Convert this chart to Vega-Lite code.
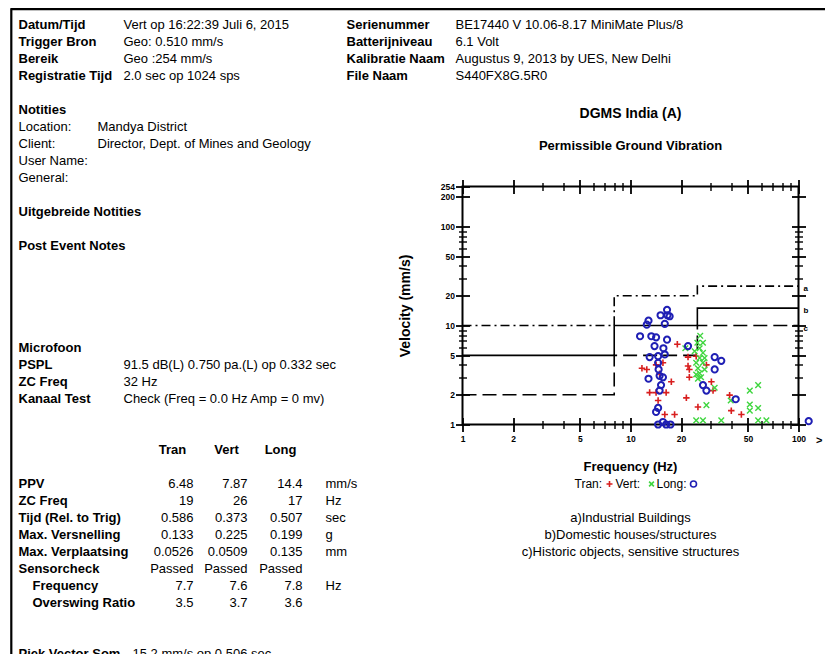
{
  "$schema": "https://vega.github.io/schema/vega-lite/v6.json",
  "background": "white",
  "padding": {"left": 9.5, "top": 7.5, "right": 0, "bottom": 0},
  "config": {
    "font": "Liberation Sans",
    "view": {"stroke": null},
    "text": {"fontSize": 13, "color": "black"},
    "axis": {"labelColor": "black", "tickColor": "black", "titleColor": "black", "labelFont": "Liberation Sans", "titleFont": "Liberation Sans"}
  },
  "datasets": {
    "report": [
      {"line": 0, "col": "lab", "kind": "label", "text": "Datum/Tijd"},
      {"line": 0, "col": "val", "text": "Vert op 16:22:39 Juli 6, 2015"},
      {"line": 0, "col": "lab2", "text": "Serienummer"},
      {"line": 0, "col": "val2", "text": "BE17440 V 10.06-8.17 MiniMate Plus/8"},
      {"line": 1, "col": "lab", "kind": "label", "text": "Trigger Bron"},
      {"line": 1, "col": "val", "text": "Geo: 0.510 mm/s"},
      {"line": 1, "col": "lab2", "text": "Batterijniveau"},
      {"line": 1, "col": "val2", "text": "6.1 Volt"},
      {"line": 2, "col": "lab", "kind": "label", "text": "Bereik"},
      {"line": 2, "col": "val", "text": "Geo :254 mm/s"},
      {"line": 2, "col": "lab2", "text": "Kalibratie Naam"},
      {"line": 2, "col": "val2", "text": "Augustus 9, 2013 by UES, New Delhi"},
      {"line": 3, "col": "lab", "kind": "label", "text": "Registratie Tijd"},
      {"line": 3, "col": "val", "text": "2.0 sec op 1024 sps"},
      {"line": 3, "col": "lab2", "text": "File Naam"},
      {"line": 3, "col": "val2", "text": "S440FX8G.5R0"},
      {"line": 5, "col": "lab", "kind": "heading", "text": "Notities"},
      {"line": 6, "col": "lab", "kind": "note", "text": "Location:"},
      {"line": 6, "col": "note", "text": "Mandya District"},
      {"line": 7, "col": "lab", "kind": "note", "text": "Client:"},
      {"line": 7, "col": "note", "text": "Director, Dept. of Mines and Geology"},
      {"line": 8, "col": "lab", "kind": "note", "text": "User Name:"},
      {"line": 9, "col": "lab", "kind": "note", "text": "General:"},
      {"line": 11, "col": "lab", "kind": "heading", "text": "Uitgebreide Notities"},
      {"line": 13, "col": "lab", "kind": "heading", "text": "Post Event Notes"},
      {"line": 19, "col": "lab", "kind": "heading", "text": "Microfoon"},
      {"line": 20, "col": "lab", "kind": "label", "text": "PSPL"},
      {"line": 20, "col": "val", "text": "91.5 dB(L)  0.750 pa.(L) op 0.332 sec"},
      {"line": 21, "col": "lab", "kind": "label", "text": "ZC Freq"},
      {"line": 21, "col": "val", "text": "32 Hz"},
      {"line": 22, "col": "lab", "kind": "label", "text": "Kanaal Test"},
      {"line": 22, "col": "val", "text": "Check (Freq = 0.0 Hz Amp = 0 mv)"},
      {"line": 25, "col": "hTran", "text": "Tran"},
      {"line": 25, "col": "hVert", "text": "Vert"},
      {"line": 25, "col": "hLong", "text": "Long"},
      {"line": 27, "col": "lab", "kind": "label", "text": "PPV"},
      {"line": 27, "col": "tran", "text": "6.48"},
      {"line": 27, "col": "vert", "text": "7.87"},
      {"line": 27, "col": "long", "text": "14.4"},
      {"line": 27, "col": "unit", "text": "mm/s"},
      {"line": 28, "col": "lab", "kind": "label", "text": "ZC Freq"},
      {"line": 28, "col": "tran", "text": "19"},
      {"line": 28, "col": "vert", "text": "26"},
      {"line": 28, "col": "long", "text": "17"},
      {"line": 28, "col": "unit", "text": "Hz"},
      {"line": 29, "col": "lab", "kind": "label", "text": "Tijd (Rel. to Trig)"},
      {"line": 29, "col": "tran", "text": "0.586"},
      {"line": 29, "col": "vert", "text": "0.373"},
      {"line": 29, "col": "long", "text": "0.507"},
      {"line": 29, "col": "unit", "text": "sec"},
      {"line": 30, "col": "lab", "kind": "label", "text": "Max. Versnelling"},
      {"line": 30, "col": "tran", "text": "0.133"},
      {"line": 30, "col": "vert", "text": "0.225"},
      {"line": 30, "col": "long", "text": "0.199"},
      {"line": 30, "col": "unit", "text": "g"},
      {"line": 31, "col": "lab", "kind": "label", "text": "Max. Verplaatsing"},
      {"line": 31, "col": "tran", "text": "0.0526"},
      {"line": 31, "col": "vert", "text": "0.0509"},
      {"line": 31, "col": "long", "text": "0.135"},
      {"line": 31, "col": "unit", "text": "mm"},
      {"line": 32, "col": "lab", "kind": "label", "text": "Sensorcheck"},
      {"line": 32, "col": "tran", "text": "Passed"},
      {"line": 32, "col": "vert", "text": "Passed"},
      {"line": 32, "col": "long", "text": "Passed"},
      {"line": 33, "col": "sub", "text": "Frequency"},
      {"line": 33, "col": "tran", "text": "7.7"},
      {"line": 33, "col": "vert", "text": "7.6"},
      {"line": 33, "col": "long", "text": "7.8"},
      {"line": 33, "col": "unit", "text": "Hz"},
      {"line": 34, "col": "sub", "text": "Overswing Ratio"},
      {"line": 34, "col": "tran", "text": "3.5"},
      {"line": 34, "col": "vert", "text": "3.7"},
      {"line": 34, "col": "long", "text": "3.6"},
      {"line": 37, "col": "lab", "kind": "label", "text": "Piek Vector Som"},
      {"line": 37, "col": "piek", "text": "15.2 mm/s op 0.506 sec"}
    ],
    "caption": [
      {"line": 6, "kind": "title", "text": "DGMS India (A)"},
      {"line": 8, "kind": "subtitle", "text": "Permissible Ground Vibration"},
      {"line": 2, "kind": "axisTitle", "text": "Frequency (Hz)"},
      {"line": 3, "kind": "legend", "series": "Tran", "text": "Tran:"},
      {"line": 3, "kind": "legend", "series": "Vert", "text": "Vert:"},
      {"line": 3, "kind": "legend", "series": "Long", "text": "Long:"},
      {"line": 5, "kind": "caption", "text": "a)Industrial Buildings"},
      {"line": 6, "kind": "caption", "text": "b)Domestic houses/structures"},
      {"line": 7, "kind": "caption", "text": "c)Historic objects, sensitive structures"}
    ],
    "limits": [
      {"cls": "a", "freq": 1, "vel": 10}, {"cls": "a", "freq": 8, "vel": 20}, {"cls": "a", "freq": 25, "vel": 25}, {"cls": "a", "freq": 100, "vel": 25},
      {"cls": "b", "freq": 1, "vel": 5}, {"cls": "b", "freq": 8, "vel": 10}, {"cls": "b", "freq": 25, "vel": 15}, {"cls": "b", "freq": 100, "vel": 15},
      {"cls": "c", "freq": 1, "vel": 2}, {"cls": "c", "freq": 8, "vel": 5}, {"cls": "c", "freq": 25, "vel": 10}, {"cls": "c", "freq": 100, "vel": 10}
    ],
    "points": [
      {"series": "Tran", "freq": 11.7, "vel": 3.7}, {"series": "Tran", "freq": 12.5, "vel": 3.6}, {"series": "Tran", "freq": 14.2, "vel": 4.0},
      {"series": "Tran", "freq": 15.6, "vel": 4.2}, {"series": "Tran", "freq": 19, "vel": 6.48}, {"series": "Tran", "freq": 22.0, "vel": 4.8},
      {"series": "Tran", "freq": 24.6, "vel": 4.9}, {"series": "Tran", "freq": 22.0, "vel": 3.9}, {"series": "Tran", "freq": 22.4, "vel": 3.6},
      {"series": "Tran", "freq": 22.4, "vel": 3.0}, {"series": "Tran", "freq": 17.5, "vel": 2.7}, {"series": "Tran", "freq": 13.0, "vel": 2.1},
      {"series": "Tran", "freq": 14.2, "vel": 2.1}, {"series": "Tran", "freq": 16.3, "vel": 2.1}, {"series": "Tran", "freq": 14.6, "vel": 1.75},
      {"series": "Tran", "freq": 21.5, "vel": 1.86}, {"series": "Tran", "freq": 25.2, "vel": 1.5}, {"series": "Tran", "freq": 16.0, "vel": 1.26},
      {"series": "Tran", "freq": 18.3, "vel": 1.26}, {"series": "Tran", "freq": 28.3, "vel": 4.0}, {"series": "Tran", "freq": 30.3, "vel": 2.7},
      {"series": "Tran", "freq": 31.0, "vel": 2.2}, {"series": "Tran", "freq": 38.9, "vel": 1.98}, {"series": "Tran", "freq": 39.8, "vel": 1.38},
      {"series": "Tran", "freq": 45.7, "vel": 1.26}, {"series": "Tran", "freq": 14.9, "vel": 3.25},
      {"series": "Vert", "freq": 26, "vel": 7.87}, {"series": "Vert", "freq": 25.0, "vel": 6.7}, {"series": "Vert", "freq": 27.0, "vel": 6.7},
      {"series": "Vert", "freq": 25.8, "vel": 5.9}, {"series": "Vert", "freq": 21.2, "vel": 5.9}, {"series": "Vert", "freq": 24.1, "vel": 5.5},
      {"series": "Vert", "freq": 27.0, "vel": 5.3}, {"series": "Vert", "freq": 25.8, "vel": 4.7}, {"series": "Vert", "freq": 24.6, "vel": 4.2},
      {"series": "Vert", "freq": 27.0, "vel": 4.2}, {"series": "Vert", "freq": 25.2, "vel": 3.7}, {"series": "Vert", "freq": 27.6, "vel": 3.6},
      {"series": "Vert", "freq": 24.6, "vel": 3.2}, {"series": "Vert", "freq": 26.3, "vel": 3.0}, {"series": "Vert", "freq": 25.2, "vel": 2.9},
      {"series": "Vert", "freq": 31.7, "vel": 2.35}, {"series": "Vert", "freq": 28.3, "vel": 1.57}, {"series": "Vert", "freq": 39.5, "vel": 1.75},
      {"series": "Vert", "freq": 51.3, "vel": 2.2}, {"series": "Vert", "freq": 57.5, "vel": 2.5}, {"series": "Vert", "freq": 51.3, "vel": 1.59},
      {"series": "Vert", "freq": 51.3, "vel": 1.38}, {"series": "Vert", "freq": 57.5, "vel": 1.47}, {"series": "Vert", "freq": 24.6, "vel": 1.1},
      {"series": "Vert", "freq": 27.0, "vel": 1.1}, {"series": "Vert", "freq": 34.7, "vel": 1.1}, {"series": "Vert", "freq": 57.5, "vel": 1.1},
      {"series": "Vert", "freq": 64.4, "vel": 1.1}, {"series": "Vert", "freq": 25.8, "vel": 3.3}, {"series": "Vert", "freq": 27.6, "vel": 4.7},
      {"series": "Long", "freq": 12.8, "vel": 11.2}, {"series": "Long", "freq": 12.5, "vel": 10.2}, {"series": "Long", "freq": 15.1, "vel": 12.7},
      {"series": "Long", "freq": 16.6, "vel": 12.7}, {"series": "Long", "freq": 16.5, "vel": 14.4}, {"series": "Long", "freq": 17.1, "vel": 12.4},
      {"series": "Long", "freq": 16.0, "vel": 10.4}, {"series": "Long", "freq": 11.4, "vel": 7.8}, {"series": "Long", "freq": 13.3, "vel": 7.8},
      {"series": "Long", "freq": 14.2, "vel": 7.6}, {"series": "Long", "freq": 16.5, "vel": 7.2}, {"series": "Long", "freq": 13.9, "vel": 6.2},
      {"series": "Long", "freq": 15.7, "vel": 5.9}, {"series": "Long", "freq": 22.0, "vel": 6.2}, {"series": "Long", "freq": 13.0, "vel": 4.8},
      {"series": "Long", "freq": 14.6, "vel": 4.9}, {"series": "Long", "freq": 16.0, "vel": 5.1}, {"series": "Long", "freq": 14.6, "vel": 4.2},
      {"series": "Long", "freq": 14.7, "vel": 3.6}, {"series": "Long", "freq": 14.9, "vel": 3.1}, {"series": "Long", "freq": 12.8, "vel": 2.9},
      {"series": "Long", "freq": 15.6, "vel": 3.0}, {"series": "Long", "freq": 15.2, "vel": 2.5}, {"series": "Long", "freq": 14.9, "vel": 2.2},
      {"series": "Long", "freq": 27.0, "vel": 2.5}, {"series": "Long", "freq": 28.3, "vel": 2.2}, {"series": "Long", "freq": 31.7, "vel": 4.8},
      {"series": "Long", "freq": 34.7, "vel": 4.4}, {"series": "Long", "freq": 31.7, "vel": 3.6}, {"series": "Long", "freq": 42.3, "vel": 1.8},
      {"series": "Long", "freq": 14.6, "vel": 1.47}, {"series": "Long", "freq": 14.2, "vel": 1.34}, {"series": "Long", "freq": 14.6, "vel": 1.0},
      {"series": "Long", "freq": 15.6, "vel": 1.06}, {"series": "Long", "freq": 16.3, "vel": 1.0}, {"series": "Long", "freq": 17.3, "vel": 1.0},
      {"series": "Long", "freq": 115, "vel": 1.08}
    ]
  },
  "bounds": "flush",
  "spacing": 0,
  "hconcat": [
    {
      "width": 1, "height": 660,
      "data": {"values": []},
      "mark": "rule", "encoding": {},
      "view": {"stroke": "black", "strokeWidth": 1.2}
    },
    {
      "bounds": "flush",
      "spacing": 0,
      "vconcat": [
        {
          "width": 815, "height": 1,
          "data": {"values": []},
          "mark": "rule", "encoding": {},
          "view": {"stroke": "black", "strokeWidth": 1.4}
        },
        {
          "bounds": "flush",
          "spacing": 0,
          "hconcat": [
            {
              "width": 7, "height": 644.5,
              "data": {"name": "report"},
              "transform": [{"filter": "datum.col === 'lab'"}],
              "encoding": {
                "x": {"field": "col", "type": "nominal", "axis": null, "scale": {"type": "point", "padding": 0, "align": 1}},
                "y": {"field": "line", "type": "ordinal", "axis": null, "scale": {"type": "point", "domain": [0,1,2,3,4,5,6,7,8,9,10,11,12,13,14,15,16,17,18,19,20,21,22,23,24,25,26,27,28,29,30,31,32,33,34,35,36,37], "padding": 0.456, "align": 1}},
                "text": {"field": "text"}
              },
              "layer": [
                {"transform": [{"filter": "datum.kind !== 'note'"}], "mark": {"type": "text", "align": "left", "fontWeight": "bold"}},
                {"transform": [{"filter": "datum.kind === 'note'"}], "mark": {"type": "text", "align": "left"}}
              ]
            },
            {
              "width": 14, "height": 644.5,
              "data": {"name": "report"},
              "transform": [{"filter": "datum.col === 'sub'"}],
              "mark": {"type": "text", "align": "left", "fontWeight": "bold"},
              "encoding": {
                "x": {"field": "col", "type": "nominal", "axis": null, "scale": {"type": "point", "padding": 0, "align": 1}},
                "y": {"field": "line", "type": "ordinal", "axis": null, "scale": {"type": "point", "domain": [0,1,2,3,4,5,6,7,8,9,10,11,12,13,14,15,16,17,18,19,20,21,22,23,24,25,26,27,28,29,30,31,32,33,34,35,36,37], "padding": 0.456, "align": 1}},
                "text": {"field": "text"}
              }
            },
            {
              "width": 65, "height": 644.5,
              "data": {"name": "report"},
              "transform": [{"filter": "datum.col === 'note'"}],
              "mark": {"type": "text", "align": "left"},
              "encoding": {
                "x": {"field": "col", "type": "nominal", "axis": null, "scale": {"type": "point", "padding": 0, "align": 1}},
                "y": {"field": "line", "type": "ordinal", "axis": null, "scale": {"type": "point", "domain": [0,1,2,3,4,5,6,7,8,9,10,11,12,13,14,15,16,17,18,19,20,21,22,23,24,25,26,27,28,29,30,31,32,33,34,35,36,37], "padding": 0.456, "align": 1}},
                "text": {"field": "text"}
              }
            },
            {
              "width": 26, "height": 644.5,
              "data": {"name": "report"},
              "transform": [{"filter": "datum.col === 'val'"}],
              "mark": {"type": "text", "align": "left"},
              "encoding": {
                "x": {"field": "col", "type": "nominal", "axis": null, "scale": {"type": "point", "padding": 0, "align": 1}},
                "y": {"field": "line", "type": "ordinal", "axis": null, "scale": {"type": "point", "domain": [0,1,2,3,4,5,6,7,8,9,10,11,12,13,14,15,16,17,18,19,20,21,22,23,24,25,26,27,28,29,30,31,32,33,34,35,36,37], "padding": 0.456, "align": 1}},
                "text": {"field": "text"}
              }
            },
            {
              "width": 9, "height": 644.5,
              "data": {"name": "report"},
              "transform": [{"filter": "datum.col === 'piek'"}],
              "mark": {"type": "text", "align": "left"},
              "encoding": {
                "x": {"field": "col", "type": "nominal", "axis": null, "scale": {"type": "point", "padding": 0, "align": 1}},
                "y": {"field": "line", "type": "ordinal", "axis": null, "scale": {"type": "point", "domain": [0,1,2,3,4,5,6,7,8,9,10,11,12,13,14,15,16,17,18,19,20,21,22,23,24,25,26,27,28,29,30,31,32,33,34,35,36,37], "padding": 0.456, "align": 1}},
                "text": {"field": "text"}
              }
            },
            {
              "width": 40, "height": 644.5,
              "data": {"name": "report"},
              "transform": [{"filter": "datum.col === 'hTran'"}],
              "mark": {"type": "text", "align": "center", "fontWeight": "bold"},
              "encoding": {
                "x": {"field": "col", "type": "nominal", "axis": null, "scale": {"type": "point", "padding": 0, "align": 1}},
                "y": {"field": "line", "type": "ordinal", "axis": null, "scale": {"type": "point", "domain": [0,1,2,3,4,5,6,7,8,9,10,11,12,13,14,15,16,17,18,19,20,21,22,23,24,25,26,27,28,29,30,31,32,33,34,35,36,37], "padding": 0.456, "align": 1}},
                "text": {"field": "text"}
              }
            },
            {
              "width": 21, "height": 644.5,
              "data": {"name": "report"},
              "transform": [{"filter": "datum.col === 'tran'"}],
              "mark": {"type": "text", "align": "right"},
              "encoding": {
                "x": {"field": "col", "type": "nominal", "axis": null, "scale": {"type": "point", "padding": 0, "align": 1}},
                "y": {"field": "line", "type": "ordinal", "axis": null, "scale": {"type": "point", "domain": [0,1,2,3,4,5,6,7,8,9,10,11,12,13,14,15,16,17,18,19,20,21,22,23,24,25,26,27,28,29,30,31,32,33,34,35,36,37], "padding": 0.456, "align": 1}},
                "text": {"field": "text"}
              }
            },
            {
              "width": 33, "height": 644.5,
              "data": {"name": "report"},
              "transform": [{"filter": "datum.col === 'hVert'"}],
              "mark": {"type": "text", "align": "center", "fontWeight": "bold"},
              "encoding": {
                "x": {"field": "col", "type": "nominal", "axis": null, "scale": {"type": "point", "padding": 0, "align": 1}},
                "y": {"field": "line", "type": "ordinal", "axis": null, "scale": {"type": "point", "domain": [0,1,2,3,4,5,6,7,8,9,10,11,12,13,14,15,16,17,18,19,20,21,22,23,24,25,26,27,28,29,30,31,32,33,34,35,36,37], "padding": 0.456, "align": 1}},
                "text": {"field": "text"}
              }
            },
            {
              "width": 21, "height": 644.5,
              "data": {"name": "report"},
              "transform": [{"filter": "datum.col === 'vert'"}],
              "mark": {"type": "text", "align": "right"},
              "encoding": {
                "x": {"field": "col", "type": "nominal", "axis": null, "scale": {"type": "point", "padding": 0, "align": 1}},
                "y": {"field": "line", "type": "ordinal", "axis": null, "scale": {"type": "point", "domain": [0,1,2,3,4,5,6,7,8,9,10,11,12,13,14,15,16,17,18,19,20,21,22,23,24,25,26,27,28,29,30,31,32,33,34,35,36,37], "padding": 0.456, "align": 1}},
                "text": {"field": "text"}
              }
            },
            {
              "width": 33, "height": 644.5,
              "data": {"name": "report"},
              "transform": [{"filter": "datum.col === 'hLong'"}],
              "mark": {"type": "text", "align": "center", "fontWeight": "bold"},
              "encoding": {
                "x": {"field": "col", "type": "nominal", "axis": null, "scale": {"type": "point", "padding": 0, "align": 1}},
                "y": {"field": "line", "type": "ordinal", "axis": null, "scale": {"type": "point", "domain": [0,1,2,3,4,5,6,7,8,9,10,11,12,13,14,15,16,17,18,19,20,21,22,23,24,25,26,27,28,29,30,31,32,33,34,35,36,37], "padding": 0.456, "align": 1}},
                "text": {"field": "text"}
              }
            },
            {
              "width": 22, "height": 644.5,
              "data": {"name": "report"},
              "transform": [{"filter": "datum.col === 'long'"}],
              "mark": {"type": "text", "align": "right"},
              "encoding": {
                "x": {"field": "col", "type": "nominal", "axis": null, "scale": {"type": "point", "padding": 0, "align": 1}},
                "y": {"field": "line", "type": "ordinal", "axis": null, "scale": {"type": "point", "domain": [0,1,2,3,4,5,6,7,8,9,10,11,12,13,14,15,16,17,18,19,20,21,22,23,24,25,26,27,28,29,30,31,32,33,34,35,36,37], "padding": 0.456, "align": 1}},
                "text": {"field": "text"}
              }
            },
            {
              "width": 23, "height": 644.5,
              "data": {"name": "report"},
              "transform": [{"filter": "datum.col === 'unit'"}],
              "mark": {"type": "text", "align": "left"},
              "encoding": {
                "x": {"field": "col", "type": "nominal", "axis": null, "scale": {"type": "point", "padding": 0, "align": 1}},
                "y": {"field": "line", "type": "ordinal", "axis": null, "scale": {"type": "point", "domain": [0,1,2,3,4,5,6,7,8,9,10,11,12,13,14,15,16,17,18,19,20,21,22,23,24,25,26,27,28,29,30,31,32,33,34,35,36,37], "padding": 0.456, "align": 1}},
                "text": {"field": "text"}
              }
            },
            {
              "width": 21, "height": 644.5,
              "data": {"name": "report"},
              "transform": [{"filter": "datum.col === 'lab2'"}],
              "mark": {"type": "text", "align": "left", "fontWeight": "bold"},
              "encoding": {
                "x": {"field": "col", "type": "nominal", "axis": null, "scale": {"type": "point", "padding": 0, "align": 1}},
                "y": {"field": "line", "type": "ordinal", "axis": null, "scale": {"type": "point", "domain": [0,1,2,3,4,5,6,7,8,9,10,11,12,13,14,15,16,17,18,19,20,21,22,23,24,25,26,27,28,29,30,31,32,33,34,35,36,37], "padding": 0.456, "align": 1}},
                "text": {"field": "text"}
              }
            },
            {
              "width": 109, "height": 644.5,
              "data": {"name": "report"},
              "transform": [{"filter": "datum.col === 'val2'"}],
              "mark": {"type": "text", "align": "left"},
              "encoding": {
                "x": {"field": "col", "type": "nominal", "axis": null, "scale": {"type": "point", "padding": 0, "align": 1}},
                "y": {"field": "line", "type": "ordinal", "axis": null, "scale": {"type": "point", "domain": [0,1,2,3,4,5,6,7,8,9,10,11,12,13,14,15,16,17,18,19,20,21,22,23,24,25,26,27,28,29,30,31,32,33,34,35,36,37], "padding": 0.456, "align": 1}},
                "text": {"field": "text"}
              }
            },
            {
              "width": 6.5, "height": 644.5,
              "data": {"values": []},
              "mark": "rule", "encoding": {}
            },
            {
              "bounds": "flush",
              "spacing": 0,
              "vconcat": [
                {
                  "width": 336, "height": 176.5,
                  "data": {"name": "caption"},
                  "encoding": {
                    "y": {"field": "line", "type": "ordinal", "axis": null, "scale": {"type": "point", "domain": [0,1,2,3,4,5,6,7,8,9,10], "padding": 0.5}},
                    "text": {"field": "text"}
                  },
                  "layer": [
                    {"transform": [{"filter": "datum.kind === 'title'"}], "mark": {"type": "text", "fontWeight": "bold", "fontSize": 14}},
                    {"transform": [{"filter": "datum.kind === 'subtitle'"}], "mark": {"type": "text", "fontWeight": "bold", "fontSize": 13}}
                  ]
                },
                {
                  "width": 336, "height": 238,
                  "view": {"stroke": "black", "strokeWidth": 2},
                  "resolve": {"axis": {"x": "independent", "y": "independent"}},
                  "layer": [
                    {
                      "data": {"name": "limits"},
                      "mark": {"type": "line", "interpolate": "step-after", "color": "black", "strokeWidth": 1.6},
                      "encoding": {
                        "x": {"field": "freq", "type": "quantitative", "scale": {"type": "log", "domain": [1, 100], "nice": false},
                          "axis": {"orient": "bottom", "values": [1, 2, 5, 10, 20, 50, 100], "format": "d",
                            "domain": false, "grid": false, "offset": -7, "tickSize": 14, "tickWidth": 1.8,
                            "labelFontSize": 8.5, "labelFontWeight": "bold", "labelPadding": 3, "labelOverlap": false, "labelFlush": false, "labelBound": false, "title": null}},
                        "y": {"field": "vel", "type": "quantitative", "scale": {"type": "log", "domain": [1, 254], "nice": false},
                          "axis": {"orient": "left", "values": [1, 2, 5, 10, 20, 50, 100, 200, 254], "format": "d",
                            "domain": false, "grid": false, "offset": -7, "tickSize": 14, "tickWidth": 1.8,
                            "labelFontSize": 8.5, "labelFontWeight": "bold", "labelPadding": 1, "labelOverlap": false, "labelFlush": false, "labelBound": false,
                            "title": "Velocity (mm/s)", "titleFontSize": 14, "titleFontWeight": "bold", "titlePadding": 28}},
                        "strokeDash": {"field": "cls", "type": "nominal", "legend": null,
                          "scale": {"domain": ["a", "b", "c"], "range": [[9, 4, 2, 4], [1, 0], [14, 6]]}}
                      }
                    },
                    {
                      "data": {"name": "points"},
                      "transform": [{"filter": "datum.series === 'Tran'"}],
                      "mark": {"type": "point", "filled": false, "strokeWidth": 1.6, "opacity": 1, "size": 42},
                      "encoding": {
                        "x": {"field": "freq", "type": "quantitative", "scale": {"type": "log", "domain": [1, 100], "nice": false},
                          "axis": {"orient": "bottom", "values": [3, 4, 6, 7, 8, 9, 30, 40, 60, 70, 80, 90], "labels": false,
                            "domain": false, "grid": false, "offset": -4, "tickSize": 8, "tickWidth": 1.4, "title": null}},
                        "y": {"field": "vel", "type": "quantitative", "scale": {"type": "log", "domain": [1, 254], "nice": false},
                          "axis": {"orient": "left", "values": [3, 4, 6, 7, 8, 9, 30, 40, 60, 70, 80, 90], "labels": false,
                            "domain": false, "grid": false, "offset": -4, "tickSize": 8, "tickWidth": 1.4, "title": null}},
                        "shape": {"field": "series", "type": "nominal", "legend": null,
                          "scale": {"domain": ["Tran", "Vert", "Long"], "range": ["M-1,0L1,0M0,-1L0,1", "M-0.8,-0.8L0.8,0.8M-0.8,0.8L0.8,-0.8", "circle"]}},
                        "color": {"field": "series", "type": "nominal", "legend": null,
                          "scale": {"domain": ["Tran", "Vert", "Long"], "range": ["#d81e1e", "#3fd63f", "#1f1fb4"]}}
                      }
                    },
                    {
                      "data": {"name": "points"},
                      "transform": [{"filter": "datum.series === 'Vert'"}],
                      "mark": {"type": "point", "filled": false, "strokeWidth": 1.4, "opacity": 1, "size": 49},
                      "encoding": {
                        "x": {"field": "freq", "type": "quantitative", "scale": {"type": "log", "domain": [1, 100], "nice": false},
                          "axis": {"orient": "top", "values": [1, 2, 5, 10, 20, 50, 100], "labels": false,
                            "domain": false, "grid": false, "offset": -7, "tickSize": 14, "tickWidth": 1.8, "title": null}},
                        "y": {"field": "vel", "type": "quantitative", "scale": {"type": "log", "domain": [1, 254], "nice": false},
                          "axis": {"orient": "right", "values": [1, 2, 5, 10, 20, 50, 100, 200], "labels": false,
                            "domain": false, "grid": false, "offset": -7, "tickSize": 14, "tickWidth": 1.8, "title": null}},
                        "shape": {"field": "series", "type": "nominal", "legend": null,
                          "scale": {"domain": ["Tran", "Vert", "Long"], "range": ["M-1,0L1,0M0,-1L0,1", "M-0.8,-0.8L0.8,0.8M-0.8,0.8L0.8,-0.8", "circle"]}},
                        "color": {"field": "series", "type": "nominal", "legend": null,
                          "scale": {"domain": ["Tran", "Vert", "Long"], "range": ["#d81e1e", "#3fd63f", "#1f1fb4"]}}
                      }
                    },
                    {
                      "data": {"name": "points"},
                      "transform": [{"filter": "datum.series === 'Long'"}],
                      "mark": {"type": "point", "filled": false, "strokeWidth": 2, "opacity": 1, "size": 38},
                      "encoding": {
                        "x": {"field": "freq", "type": "quantitative", "scale": {"type": "log", "domain": [1, 100], "nice": false},
                          "axis": {"orient": "top", "values": [3, 4, 6, 7, 8, 9, 30, 40, 60, 70, 80, 90], "labels": false,
                            "domain": false, "grid": false, "offset": -4, "tickSize": 8, "tickWidth": 1.4, "title": null}},
                        "y": {"field": "vel", "type": "quantitative", "scale": {"type": "log", "domain": [1, 254], "nice": false},
                          "axis": {"orient": "right", "values": [3, 4, 6, 7, 8, 9, 30, 40, 60, 70, 80, 90], "labels": false,
                            "domain": false, "grid": false, "offset": -4, "tickSize": 8, "tickWidth": 1.4, "title": null}},
                        "shape": {"field": "series", "type": "nominal", "legend": null,
                          "scale": {"domain": ["Tran", "Vert", "Long"], "range": ["M-1,0L1,0M0,-1L0,1", "M-0.8,-0.8L0.8,0.8M-0.8,0.8L0.8,-0.8", "circle"]}},
                        "color": {"field": "series", "type": "nominal", "legend": null,
                          "scale": {"domain": ["Tran", "Vert", "Long"], "range": ["#d81e1e", "#3fd63f", "#1f1fb4"]}}
                      }
                    },
                    {
                      "data": {"name": "limits"},
                      "transform": [{"filter": "datum.freq == 100"}],
                      "mark": {"type": "text", "align": "left", "dx": 5, "dy": 3, "fontSize": 8, "fontWeight": "bold"},
                      "encoding": {
                        "x": {"field": "freq", "type": "quantitative", "scale": {"type": "log", "domain": [1, 100], "nice": false}, "axis": null},
                        "y": {"field": "vel", "type": "quantitative", "scale": {"type": "log", "domain": [1, 254], "nice": false}, "axis": null},
                        "text": {"field": "cls"}
                      }
                    },
                    {
                      "data": {"values": [{"mark": ">"}]},
                      "mark": {"type": "text", "dy": 16, "fontSize": 11, "fontWeight": "bold"},
                      "encoding": {
                        "x": {"datum": 133, "type": "quantitative", "scale": {"type": "log", "domain": [1, 100], "nice": false}, "axis": null},
                        "y": {"datum": 1, "type": "quantitative", "scale": {"type": "log", "domain": [1, 254], "nice": false}, "axis": null},
                        "text": {"field": "mark"}
                      }
                    }
                  ]
                },
                {
                  "width": 336, "height": 136,
                  "data": {"name": "caption"},
                  "resolve": {"scale": {"x": "independent"}},
                  "encoding": {
                    "y": {"field": "line", "type": "ordinal", "axis": null, "scale": {"type": "point", "domain": [0,1,2,3,4,5,6,7], "padding": 0.5}}
                  },
                  "layer": [
                    {"transform": [{"filter": "datum.kind === 'axisTitle'"}], "mark": {"type": "text", "fontWeight": "bold", "fontSize": 13}, "encoding": {"text": {"field": "text"}}},
                    {"transform": [{"filter": "datum.kind === 'caption'"}], "mark": {"type": "text", "fontSize": 13}, "encoding": {"text": {"field": "text"}}},
                    {
                      "transform": [{"filter": "datum.kind === 'legend'"}],
                      "mark": {"type": "text", "align": "left", "fontSize": 12},
                      "encoding": {
                        "x": {"field": "series", "type": "nominal", "axis": null, "scale": {"type": "point", "domain": ["Tran", "Vert", "Long"], "padding": 0, "range": [112, 194]}},
                        "text": {"field": "text"}
                      }
                    },
                    {
                      "transform": [{"filter": "datum.kind === 'legend'"}],
                      "mark": {"type": "point", "filled": false, "strokeWidth": 1.6, "opacity": 1, "size": 36},
                      "encoding": {
                        "x": {"field": "series", "type": "nominal", "axis": null, "scale": {"type": "point", "domain": ["Tran", "Vert", "Long"], "padding": 0, "range": [147, 231]}},
                        "shape": {"field": "series", "type": "nominal", "legend": null,
                          "scale": {"domain": ["Tran", "Vert", "Long"], "range": ["M-1,0L1,0M0,-1L0,1", "M-0.8,-0.8L0.8,0.8M-0.8,0.8L0.8,-0.8", "circle"]}},
                        "color": {"field": "series", "type": "nominal", "legend": null,
                          "scale": {"domain": ["Tran", "Vert", "Long"], "range": ["#d81e1e", "#3fd63f", "#1f1fb4"]}}
                      }
                    }
                  ]
                }
              ]
            }
          ]
        }
      ]
    }
  ]
}
